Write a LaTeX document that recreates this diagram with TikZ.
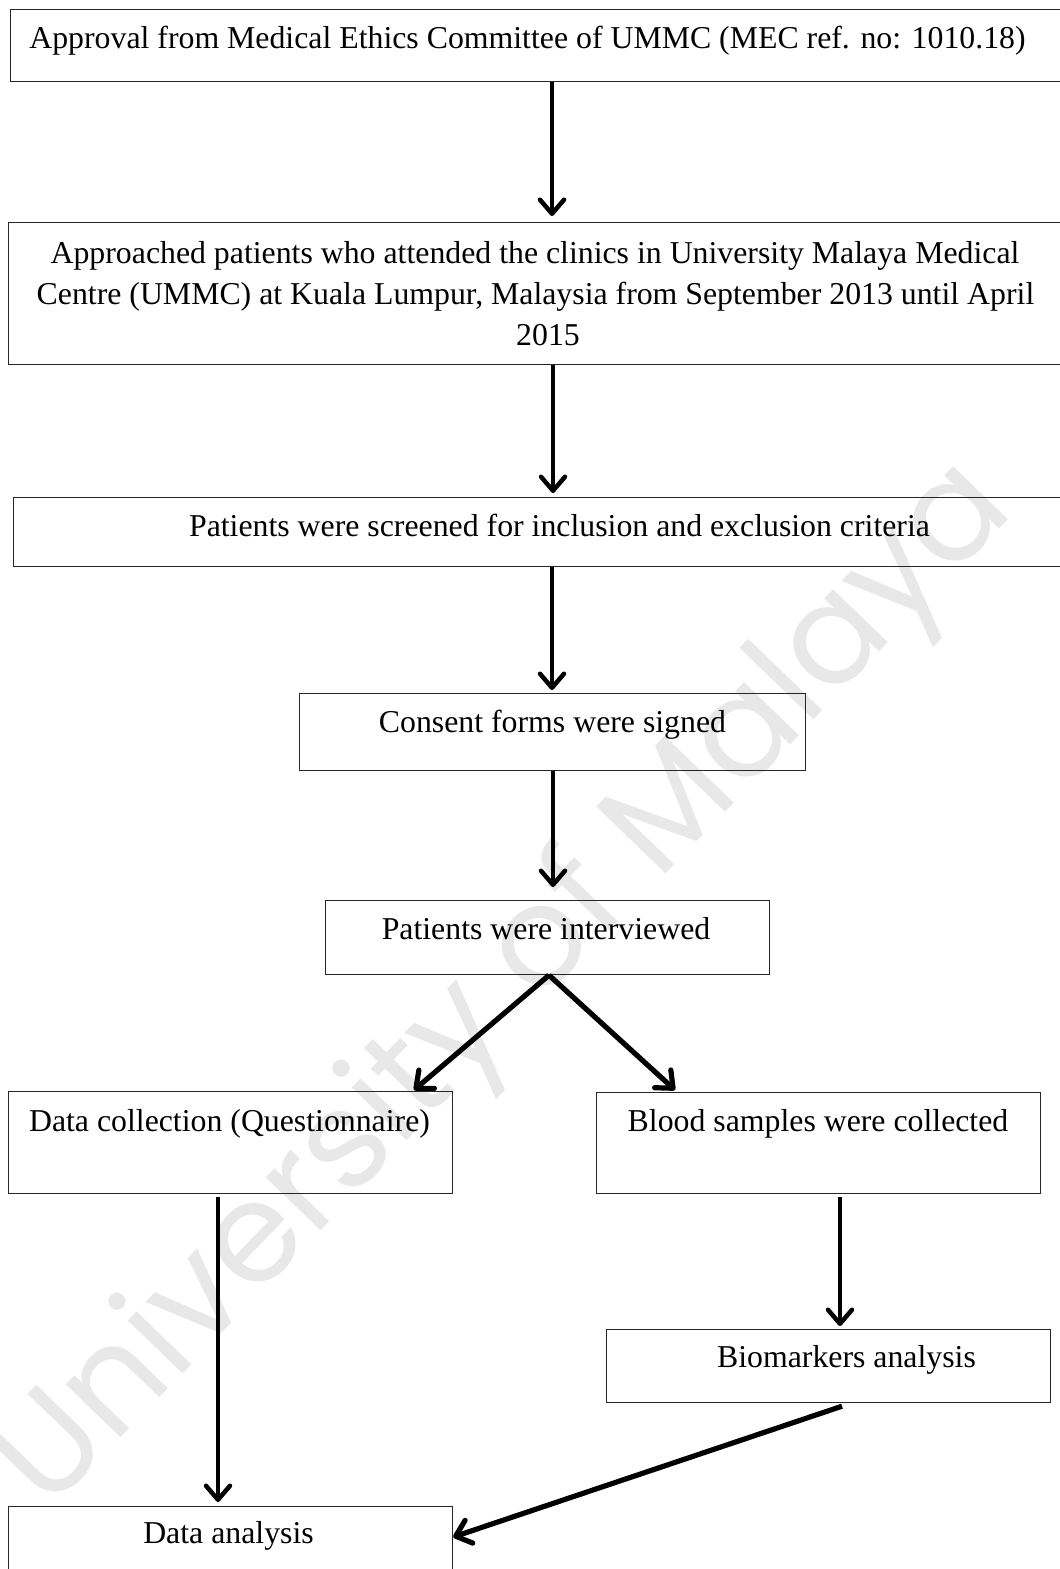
\documentclass[tikz,border=0pt]{standalone}
\usepackage{fontspec}
\setmainfont{Liberation Serif}
\newfontfamily\wmfont{Poppins}
\usetikzlibrary{arrows.meta,calc}
\begin{document}
\begin{tikzpicture}[x=1pt,y=-1pt,
  box/.style={draw=black!85, line width=1.2pt, rectangle, inner sep=0pt, anchor=north west},
  lbl/.style={anchor=base, inner sep=0pt, font=\fontsize{31.8}{41}\selectfont},
  arr/.style={line width=4.5pt, -{Straight Barb[length=14pt,width=24pt,line cap=round,line join=round]}},
  darr/.style={arr, line width=5.2pt},
]
\useasboundingbox (0,0) rectangle (1060,1569);
\fill[white] (0,0) rectangle (1060,1569);
\node[rotate=46, anchor=base, text=black!9, font=\wmfont\fontsize{139}{139}\selectfont, inner sep=0pt] (wm) at (532,1012) {University of Malaya};

\node[box, minimum width=1065, minimum height=72] (b1) at (10,9) {};
\node[box, minimum width=1067, minimum height=142] (b2) at (8,222) {};
\node[box, minimum width=1062, minimum height=69] (b3) at (13,497) {};
\node[box, minimum width=506, minimum height=77] (b4) at (299,693) {};
\node[box, minimum width=444, minimum height=74] (b5) at (325,900) {};
\node[box, minimum width=444, minimum height=102] (b6) at (8,1091) {};
\node[box, minimum width=444, minimum height=101] (b7) at (596,1092) {};
\node[box, minimum width=444, minimum height=73] (b8) at (606,1329) {};
\node[box, minimum width=444, minimum height=100] (b9) at (8,1506) {};

\node[lbl] (t1) at (527.5,48) {Approval from Medical Ethics Committee of UMMC (MEC ref. no: 1010.18)};
\node[lbl] (t2a) at (535,263) {Approached patients who attended the clinics in University Malaya Medical};
\node[lbl] (t2b) at (535.5,304) {Centre (UMMC) at Kuala Lumpur, Malaysia from September 2013 until April};
\node[lbl] (t2c) at (548,345) {2015};
\node[lbl] (t3) at (559.5,536) {Patients were screened for inclusion and exclusion criteria};
\node[lbl] (t4) at (552.5,732) {Consent forms were signed};
\node[lbl] (t5) at (546,939) {Patients were interviewed};
\node[lbl] (t6) at (229.5,1131) {Data collection (Questionnaire)};
\node[lbl] (t7) at (818,1131) {Blood samples were collected};
\node[lbl] (t8) at (846.5,1367) {Biomarkers analysis};
\node[lbl] (t9) at (228.5,1543) {Data analysis};

\coordinate (xa) at (552,0);
\coordinate (xb) at (553,0);
\coordinate (xc) at (549,0);
\coordinate (xl) at (414,0);
\coordinate (xr) at (675,0);
\coordinate (xq) at (218,0);
\coordinate (xs) at (840,0);
\coordinate (xt) at (842,0);

\draw[arr] (b1.south -| xa) -- ($(b2.north -| xa)+(0,-6)$);
\draw[arr] (b2.south -| xb) -- ($(b3.north -| xb)+(0,-4)$);
\draw[arr] (b3.south -| xa) -- ($(b4.north -| xa)+(0,-3)$);
\draw[arr] (b4.south -| xb) -- ($(b5.north -| xb)+(0,-13)$);
\draw[darr] (b5.south -| xc) -- ($(b6.north -| xl)+(0,-1)$);
\draw[darr] (b5.south -| xc) -- ($(b7.north -| xr)+(0,-2)$);
\draw[arr] ($(b6.south -| xq)+(0,3)$) -- ($(b9.north -| xq)+(0,-4)$);
\draw[arr] ($(b7.south -| xs)+(0,3)$) -- ($(b8.north -| xs)+(0,-3)$);
\draw[darr] ($(b8.south -| xt)+(0,3)$) -- ($(b9.north east)+(0,31)$);
\end{tikzpicture}
\end{document}
